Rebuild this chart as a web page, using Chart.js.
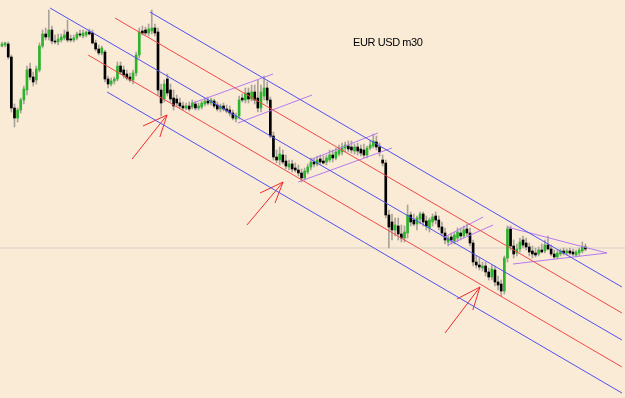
<!DOCTYPE html>
<html><head><meta charset="utf-8">
<script src="https://cdn.jsdelivr.net/npm/chart.js@4/dist/chart.umd.min.js"></script>
<style>
html,body{margin:0;padding:0;background:#FAEBD7;}
#wrap{position:relative;width:625px;height:398px;overflow:hidden;}
#title{position:absolute;left:353px;top:36px;font-family:"Liberation Sans",Arial,sans-serif;font-size:11px;color:#000;white-space:nowrap;letter-spacing:-0.4px;}
</style></head><body>
<div id="wrap"><canvas id="c"></canvas><div id="title">EUR USD m30</div></div>
<script>
// EUR/USD, M30 candles (oldest -> newest)
const opens=[1.3604,1.3605,1.3606,1.3593,1.3542,1.3532,1.3540,1.3550,1.3560,1.3581,
1.3573,1.3570,1.3580,1.3604,1.3616,1.3613,1.3620,1.3609,1.3608,1.3610,
1.3612,1.3618,1.3611,1.3610,1.3612,1.3616,1.3614,1.3615,1.3618,1.3617,
1.3607,1.3601,1.3597,1.3598,1.3571,1.3566,1.3569,1.3571,1.3584,1.3580,
1.3576,1.3573,1.3570,1.3577,1.3595,1.3619,1.3620,1.3617,1.3619,1.3622,
1.3618,1.3560,1.3551,1.3571,1.3560,1.3552,1.3551,1.3547,1.3544,1.3542,
1.3544,1.3543,1.3546,1.3542,1.3543,1.3546,1.3549,1.3547,1.3549,1.3545,
1.3541,1.3544,1.3541,1.3540,1.3537,1.3531,1.3534,1.3552,1.3550,1.3557,
1.3551,1.3558,1.3552,1.3542,1.3554,1.3562,1.3550,1.3514,1.3493,1.3490,
1.3495,1.3489,1.3483,1.3486,1.3482,1.3480,1.3477,1.3472,1.3478,1.3483,
1.3488,1.3486,1.3491,1.3489,1.3488,1.3490,1.3495,1.3492,1.3496,1.3498,
1.3502,1.3504,1.3503,1.3499,1.3503,1.3501,1.3500,1.3495,1.3502,1.3504,
1.3508,1.3503,1.3490,1.3487,1.3435,1.3428,1.3420,1.3424,1.3416,1.3412,
1.3417,1.3435,1.3430,1.3426,1.3431,1.3436,1.3429,1.3422,1.3428,1.3434,
1.3430,1.3423,1.3417,1.3408,1.3413,1.3409,1.3412,1.3417,1.3414,1.3421,
1.3417,1.3407,1.3388,1.3385,1.3382,1.3384,1.3378,1.3373,1.3380,1.3368,
1.3366,1.3359,1.3392,1.3421,1.3404,1.3397,1.3401,1.3410,1.3407,1.3403,
1.3399,1.3397,1.3396,1.3400,1.3399,1.3405,1.3401,1.3396,1.3393,1.3396,
1.3399,1.3397,1.3399,1.3398,1.3395,1.3397,1.3399,1.3403];
const highs=[1.3608,1.3608,1.3608,1.3595,1.3546,1.3542,1.3552,1.3564,1.3584,1.3587,
1.3578,1.3584,1.3607,1.3620,1.3622,1.3640,1.3624,1.3615,1.3616,1.3616,
1.3620,1.3630,1.3615,1.3615,1.3618,1.3620,1.3620,1.3619,1.3621,1.3620,
1.3610,1.3605,1.3604,1.3600,1.3574,1.3572,1.3573,1.3588,1.3588,1.3584,
1.3580,1.3577,1.3580,1.3598,1.3622,1.3624,1.3623,1.3626,1.3640,1.3626,
1.3622,1.3566,1.3570,1.3576,1.3566,1.3560,1.3555,1.3552,1.3548,1.3547,
1.3548,1.3550,1.3549,1.3547,1.3549,1.3551,1.3553,1.3552,1.3551,1.3548,
1.3546,1.3547,1.3545,1.3544,1.3540,1.3537,1.3554,1.3556,1.3562,1.3562,
1.3565,1.3565,1.3570,1.3565,1.3574,1.3568,1.3553,1.3518,1.3500,1.3503,
1.3500,1.3495,1.3490,1.3490,1.3487,1.3485,1.3481,1.3482,1.3486,1.3492,
1.3492,1.3494,1.3495,1.3494,1.3495,1.3500,1.3500,1.3502,1.3505,1.3507,
1.3508,1.3509,1.3509,1.3506,1.3507,1.3505,1.3506,1.3504,1.3510,1.3516,
1.3514,1.3507,1.3495,1.3490,1.3440,1.3436,1.3432,1.3432,1.3425,1.3424,
1.3445,1.3438,1.3436,1.3434,1.3438,1.3438,1.3434,1.3432,1.3436,1.3438,
1.3434,1.3428,1.3422,1.3414,1.3417,1.3418,1.3422,1.3422,1.3424,1.3426,
1.3422,1.3410,1.3394,1.3392,1.3388,1.3388,1.3382,1.3385,1.3384,1.3374,
1.3370,1.3394,1.3424,1.3424,1.3410,1.3406,1.3412,1.3414,1.3412,1.3407,
1.3404,1.3402,1.3403,1.3406,1.3410,1.3414,1.3405,1.3400,1.3400,1.3401,
1.3402,1.3401,1.3402,1.3401,1.3400,1.3402,1.3408,1.3406];
const lows=[1.3603,1.3603,1.3591,1.3538,1.3523,1.3528,1.3537,1.3546,1.3555,1.3570,
1.3564,1.3566,1.3578,1.3602,1.3610,1.3610,1.3606,1.3606,1.3605,1.3608,
1.3610,1.3608,1.3608,1.3608,1.3610,1.3613,1.3612,1.3613,1.3615,1.3606,
1.3599,1.3595,1.3595,1.3568,1.3562,1.3564,1.3566,1.3569,1.3576,1.3572,
1.3570,1.3568,1.3566,1.3574,1.3592,1.3615,1.3615,1.3614,1.3616,1.3614,
1.3555,1.3534,1.3548,1.3554,1.3548,1.3540,1.3544,1.3542,1.3540,1.3540,
1.3539,1.3541,1.3540,1.3540,1.3541,1.3544,1.3545,1.3545,1.3542,1.3539,
1.3538,1.3539,1.3537,1.3534,1.3530,1.3528,1.3531,1.3548,1.3547,1.3547,
1.3549,1.3546,1.3538,1.3538,1.3550,1.3546,1.3512,1.3490,1.3487,1.3485,
1.3486,1.3481,1.3480,1.3478,1.3478,1.3474,1.3468,1.3470,1.3476,1.3480,
1.3483,1.3484,1.3485,1.3486,1.3485,1.3488,1.3488,1.3490,1.3494,1.3495,
1.3498,1.3498,1.3497,1.3496,1.3495,1.3494,1.3492,1.3492,1.3500,1.3502,
1.3500,1.3494,1.3484,1.3432,1.3402,1.3410,1.3414,1.3410,1.3408,1.3408,
1.3412,1.3424,1.3424,1.3420,1.3426,1.3424,1.3420,1.3418,1.3424,1.3426,
1.3420,1.3414,1.3406,1.3404,1.3406,1.3406,1.3408,1.3410,1.3412,1.3414,
1.3404,1.3384,1.3382,1.3380,1.3379,1.3374,1.3370,1.3370,1.3364,1.3360,
1.3354,1.3356,1.3388,1.3400,1.3392,1.3394,1.3398,1.3402,1.3400,1.3394,
1.3392,1.3393,1.3394,1.3397,1.3397,1.3400,1.3394,1.3391,1.3391,1.3394,
1.3395,1.3395,1.3395,1.3394,1.3393,1.3394,1.3397,1.3399];
const closes=[1.3606,1.3607,1.3593,1.3542,1.3532,1.3540,1.3550,1.3561,1.3580,1.3573,
1.3568,1.3581,1.3604,1.3616,1.3613,1.3620,1.3609,1.3608,1.3611,1.3613,
1.3615,1.3610,1.3610,1.3612,1.3616,1.3615,1.3617,1.3618,1.3616,1.3607,
1.3601,1.3597,1.3602,1.3571,1.3566,1.3569,1.3571,1.3584,1.3578,1.3575,
1.3572,1.3570,1.3577,1.3595,1.3618,1.3617,1.3617,1.3621,1.3622,1.3617,
1.3560,1.3547,1.3566,1.3557,1.3551,1.3544,1.3547,1.3544,1.3542,1.3544,
1.3541,1.3547,1.3542,1.3544,1.3547,1.3549,1.3547,1.3550,1.3544,1.3541,
1.3544,1.3541,1.3539,1.3537,1.3532,1.3534,1.3550,1.3550,1.3557,1.3551,
1.3558,1.3550,1.3542,1.3558,1.3562,1.3550,1.3514,1.3493,1.3490,1.3496,
1.3488,1.3484,1.3486,1.3481,1.3480,1.3477,1.3472,1.3479,1.3483,1.3488,
1.3486,1.3490,1.3488,1.3487,1.3492,1.3495,1.3492,1.3498,1.3500,1.3503,
1.3505,1.3501,1.3500,1.3503,1.3499,1.3497,1.3495,1.3502,1.3505,1.3509,
1.3503,1.3498,1.3487,1.3435,1.3423,1.3420,1.3425,1.3416,1.3412,1.3418,
1.3435,1.3428,1.3426,1.3432,1.3436,1.3428,1.3424,1.3430,1.3433,1.3430,
1.3423,1.3417,1.3410,1.3412,1.3410,1.3415,1.3418,1.3414,1.3420,1.3417,
1.3407,1.3388,1.3385,1.3383,1.3384,1.3378,1.3373,1.3381,1.3368,1.3365,
1.3359,1.3392,1.3421,1.3404,1.3396,1.3401,1.3408,1.3405,1.3403,1.3398,
1.3396,1.3395,1.3400,1.3398,1.3405,1.3401,1.3396,1.3393,1.3397,1.3399,
1.3397,1.3399,1.3397,1.3396,1.3398,1.3400,1.3403,1.3401];

// trend objects: [barFrom, priceFrom, barTo, priceTo]
const blueChannel=[[47.4,1.3638,198.7,1.3363],[15.4,1.3642,198.7,1.3310],[33.7,1.3558,198.7,1.3257]];
const redChannel=[[36.2,1.3632,198.7,1.3337],[27.6,1.3595,198.7,1.3283]];
const flagLines=[[61.2,1.3547,86.9,1.3576],[75.6,1.3527,99.4,1.3555],
 [98.7,1.3490,120.5,1.3517],[94.9,1.3468,125.0,1.3502],
 [141.3,1.3412,154.2,1.3433],[142.9,1.3405,157.4,1.3425],
 [161.9,1.3423,193.9,1.3397],[163.8,1.3386,193.9,1.3397]];
const arrowLines=[[41.7,1.3491,52.9,1.3535],[45.2,1.3524,52.9,1.3535],[50.6,1.3513,52.9,1.3535],
 [78.5,1.3425,90.1,1.3468],[82.7,1.3457,90.1,1.3468],[87.5,1.3447,90.1,1.3468],
 [142.0,1.3317,153.2,1.3363],[145.8,1.3351,153.2,1.3363],[150.9,1.3340,153.2,1.3363]];
const levelLine=[[-2,1.3402,202,1.3402]];

const idx=opens.map((_,i)=>i);
const wickData=idx.map(i=>({x:i,y:[lows[i],highs[i]]}));
const bodyData=idx.map(i=>({x:i,y:[opens[i],closes[i]]}));
const bodyColors=idx.map(i=>closes[i]>=opens[i]?'#2cb52c':'#000000');

function segs(list,color,order){
  return list.map(s=>({type:'line',data:[{x:s[0],y:s[1]},{x:s[2],y:s[3]}],
    borderColor:color,borderWidth:1,pointRadius:0,fill:false,tension:0,order:order}));
}

const datasets=[
  ...segs(levelLine,'#d6d0c8',5),
  {type:'bar',data:wickData,backgroundColor:'#aaa399',barThickness:1,grouped:false,borderWidth:0,order:4},
  {type:'bar',data:bodyData,backgroundColor:bodyColors,barThickness:2,grouped:false,borderWidth:0,order:3},
  ...segs(blueChannel,'#5050f0',1),
  ...segs(redChannel,'#f04848',1),
  ...segs(flagLines,'#b47af0',1),
  ...segs(arrowLines,'#f02a2a',1)
];

new Chart(document.getElementById('c'),{
  type:'bar',
  data:{datasets:datasets},
  options:{
    responsive:true,maintainAspectRatio:false,animation:false,
    layout:{padding:0},
    plugins:{legend:{display:false},tooltip:{enabled:false},title:{display:false}},
    scales:{
      x:{type:'linear',display:false,offset:false,min:-0.641,max:199.68},
      y:{type:'linear',display:false,min:1.3252,max:1.3650,beginAtZero:false}
    }
  }
});
</script>
</body></html>
